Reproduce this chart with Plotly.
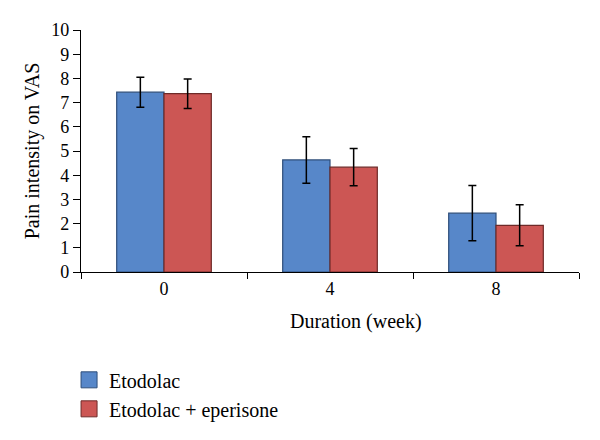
import plotly.graph_objects as go

categories = ["0", "4", "8"]
etodolac = [7.43, 4.63, 2.43]
etodolac_err = [0.62, 0.96, 1.14]
combo = [7.37, 4.33, 1.93]
combo_err = [0.61, 0.77, 0.85]
series_names = ["Etodolac", "Etodolac + eperisone"]
y_ticks = list(range(0, 11))

FONT = "Liberation Serif"
BLUE, BLUE_EDGE = "#5787C9", "#2E4E7A"
RED, RED_EDGE = "#CC5654", "#6E2A28"

fig = go.Figure()
fig.add_trace(go.Bar(
    x=categories, y=etodolac, name=series_names[0], showlegend=False,
    marker=dict(color=BLUE, line=dict(color=BLUE_EDGE, width=1.2)),
    error_y=dict(type="data", array=etodolac_err, visible=True,
                 color="black", thickness=1.5, width=4),
))
fig.add_trace(go.Bar(
    x=categories, y=combo, name=series_names[1], showlegend=False,
    marker=dict(color=RED, line=dict(color=RED_EDGE, width=1.2)),
    error_y=dict(type="data", array=combo_err, visible=True,
                 color="black", thickness=1.5, width=4),
))
# legend entries with larger square swatches
for name, col, edge in [(series_names[0], BLUE, BLUE_EDGE), (series_names[1], RED, RED_EDGE)]:
    fig.add_trace(go.Scatter(
        x=[None], y=[None], mode="markers", name=name, hoverinfo="skip",
        marker=dict(symbol="square", size=16, color=col, line=dict(color=edge, width=1)),
    ))

fig.update_layout(
    width=600, height=440,
    margin=dict(l=81, r=21, t=30, b=160),
    paper_bgcolor="white", plot_bgcolor="white",
    barmode="group", bargap=0.43, bargroupgap=0,
    font=dict(family=FONT, size=18, color="black"),
    xaxis=dict(
        type="category", categoryorder="array", categoryarray=categories,
        showline=True, linecolor="black", linewidth=1.2,
        ticks="outside", ticklen=6, tickcolor="black",
        tickson="boundaries", showgrid=False,
        tickfont=dict(family=FONT, size=18),
    ),
    yaxis=dict(
        range=[0, 10], tickvals=y_ticks, showline=True, linecolor="black",
        linewidth=1.2, ticks="outside", ticklen=7, tickcolor="black",
        showgrid=False, zeroline=False,
        tickfont=dict(family=FONT, size=18),
        title=dict(text="Pain intensity on VAS", font=dict(family=FONT, size=20), standoff=6),
    ),
    legend=dict(
        x=-0.024, xanchor="left", y=-0.365, yanchor="top",
        font=dict(family=FONT, size=20), bgcolor="rgba(0,0,0,0)",
        tracegroupgap=0, itemwidth=30, itemsizing="trace",
    ),
    annotations=[dict(
        text="Duration (week)", xref="paper", yref="paper",
        x=0.552, y=-0.15, xanchor="center", yanchor="top",
        showarrow=False, font=dict(family=FONT, size=20),
    )],
)

fig.write_html("out.html", config={"displayModeBar": False},
               post_script="document.body.style.margin='0';")
